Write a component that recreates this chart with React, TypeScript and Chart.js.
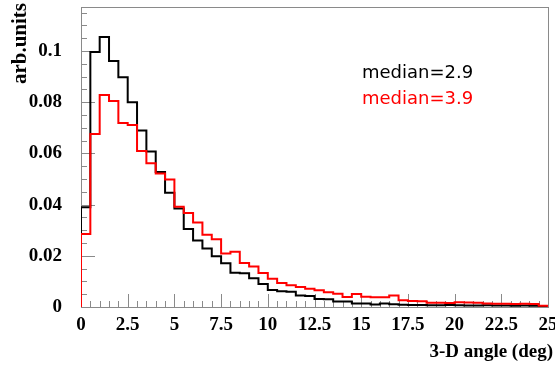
import React, { useEffect, useRef } from 'react';
import { Chart, registerables } from 'chart.js';

Chart.register(...registerables);

// ---- data ----
const BIN_WIDTH = 0.5;
const X_MIN = 0;
const X_MAX = 25;
const Y_MIN = 0;
const Y_MAX = 0.1172;
const X_TICK_STEP = 2.5;
const Y_TICK_STEP = 0.02;

// black histogram (median=2.9), one value per 0.5-deg bin from 0 to 25
const blackValues = [
  0.039, 0.0996, 0.1055, 0.0961, 0.0898, 0.080, 0.069, 0.0607, 0.0527, 0.0446,
  0.0385, 0.0305, 0.026, 0.0229, 0.0198, 0.0171, 0.0134, 0.0132, 0.0112, 0.009,
  0.0066, 0.0062, 0.006, 0.0045, 0.0043, 0.0031, 0.003, 0.0021, 0.0021, 0.0014,
  0.0014, 0.001, 0.0014, 0.0011, 0.0009, 0.0008, 0.0008, 0.0007, 0.0007, 0.0008,
  0.0007, 0.0006, 0.0006, 0.0007, 0.0006, 0.0006, 0.0005, 0.0006, 0.0005, 0.0004,
];

// red histogram (median=3.9)
const redValues = [
  0.0285, 0.0676, 0.0828, 0.0805, 0.0719, 0.0711, 0.0609, 0.0562, 0.0522, 0.0498,
  0.0392, 0.0367, 0.033, 0.0282, 0.0265, 0.0209, 0.0216, 0.0172, 0.0158, 0.0133,
  0.011, 0.0094, 0.0085, 0.0078, 0.0071, 0.0065, 0.0058, 0.0052, 0.0039, 0.0051,
  0.004, 0.0038, 0.0038, 0.0045, 0.0026, 0.0023, 0.0022, 0.0017, 0.0017, 0.0016,
  0.0019, 0.0018, 0.0017, 0.0014, 0.0013, 0.0013, 0.0012, 0.0013, 0.0012, 0.0005,
];

const seriesColors = ['#000000', '#ff0000'];
const medianLabels = ['median=2.9', 'median=3.9'];
const xTitle = '3-D angle (deg)';
const yTitle = 'arb.units';

const AXIS_GRAY = '#8a8a8a';
const SERIF_BOLD = 'bold 19px "Liberation Serif", "Times New Roman", serif';

function histOutline(values: number[]) {
  const pts: { x: number; y: number }[] = [{ x: X_MIN, y: 0 }];
  values.forEach((v, i) => {
    const lo = X_MIN + i * BIN_WIDTH;
    const hi = lo + BIN_WIDTH;
    pts.push({ x: lo, y: v });
    pts.push({ x: hi, y: v });
  });
  pts.push({ x: X_MIN + values.length * BIN_WIDTH, y: 0 });
  return pts;
}

function fmt(v: number) {
  return String(Number(v.toFixed(4)));
}

const rootFramePlugin = {
  id: 'rootFrame',
  beforeDraw(chart: any) {
    const { ctx, width, height } = chart;
    ctx.save();
    ctx.fillStyle = '#ffffff';
    ctx.fillRect(0, 0, width, height);
    ctx.restore();
  },
  beforeDatasetsDraw(chart: any) {
    const { ctx, chartArea } = chart;
    const xs = chart.scales.x;
    const ys = chart.scales.y;
    ctx.save();
    ctx.strokeStyle = AXIS_GRAY;
    ctx.lineWidth = 1;
    // frame
    ctx.strokeRect(
      Math.round(chartArea.left) + 0.5,
      Math.round(chartArea.top) + 0.5,
      Math.round(chartArea.right - chartArea.left),
      Math.round(chartArea.bottom - chartArea.top)
    );
    // x ticks (inward)
    const nx = Math.round((X_MAX - X_MIN) / BIN_WIDTH);
    const xPerMajor = Math.round(X_TICK_STEP / BIN_WIDTH);
    ctx.beginPath();
    for (let i = 0; i <= nx; i++) {
      const v = X_MIN + i * BIN_WIDTH;
      const px = Math.round(xs.getPixelForValue(v)) + 0.5;
      const len = i % xPerMajor === 0 ? 13 : 6;
      ctx.moveTo(px, chartArea.bottom);
      ctx.lineTo(px, chartArea.bottom - len);
    }
    // y ticks (inward)
    const yMinor = Y_TICK_STEP / 4;
    for (let i = 0; Y_MIN + i * yMinor <= Y_MAX + 1e-9; i++) {
      const v = Y_MIN + i * yMinor;
      const py = Math.round(ys.getPixelForValue(v)) + 0.5;
      const len = i % 4 === 0 ? 14 : 6;
      ctx.moveTo(chartArea.left, py);
      ctx.lineTo(chartArea.left + len, py);
    }
    ctx.stroke();
    ctx.restore();
  },
  afterDraw(chart: any) {
    const { ctx } = chart;
    ctx.save();
    // axis titles
    ctx.fillStyle = '#000';
    ctx.font = SERIF_BOLD;
    ctx.textAlign = 'right';
    ctx.textBaseline = 'alphabetic';
    ctx.fillText(xTitle, 553, 357);

    ctx.save();
    ctx.font = 'bold 21px "Liberation Serif", "Times New Roman", serif';
    ctx.translate(26, 3);
    ctx.rotate(-Math.PI / 2);
    ctx.textAlign = 'right';
    ctx.fillText(yTitle, 0, 0);
    ctx.restore();

    // median annotations
    ctx.font = '18px "DejaVu Sans", sans-serif';
    ctx.textAlign = 'left';
    medianLabels.forEach((t, i) => {
      ctx.fillStyle = seriesColors[i];
      ctx.fillText(t, 362, 78 + i * 26);
    });
    ctx.restore();
  },
};

export default function App() {
  const canvasRef = useRef<HTMLCanvasElement | null>(null);

  useEffect(() => {
    document.body.style.margin = '0';
    const canvas = canvasRef.current;
    if (!canvas) return;
    const tickFont = { family: '"Liberation Serif", "Times New Roman", serif', weight: 'bold' as const, size: 19 };
    const chart = new Chart(canvas, {
      type: 'line',
      data: {
        datasets: [blackValues, redValues].map((vals, i) => ({
          label: medianLabels[i],
          data: histOutline(vals),
          borderColor: seriesColors[i],
          borderWidth: 2,
          pointRadius: 0,
          fill: false,
          tension: 0,
          order: 2 - i,
          borderJoinStyle: 'miter' as const,
        })),
      },
      options: {
        animation: false,
        responsive: false,
        devicePixelRatio: 1,
        parsing: false as any,
        layout: { padding: { left: 0, top: 7, right: 7, bottom: 0 } },
        plugins: {
          legend: { display: false },
          tooltip: { enabled: false },
          title: { display: false },
        },
        scales: {
          x: {
            type: 'linear',
            min: X_MIN,
            max: X_MAX,
            grid: { display: false, drawTicks: false },
            border: { display: false },
            ticks: {
              stepSize: X_TICK_STEP,
              autoSkip: false,
              maxRotation: 0,
              includeBounds: false,
              color: '#000',
              font: tickFont,
              padding: 7,
              callback: (v: any) => fmt(Number(v)),
            },
            afterFit: (s: any) => {
              s.height = 64;
              s.paddingLeft = 0;
              s.paddingRight = 0;
            },
          },
          y: {
            type: 'linear',
            min: Y_MIN,
            max: Y_MAX,
            grid: { display: false, drawTicks: false },
            border: { display: false },
            ticks: {
              stepSize: Y_TICK_STEP,
              includeBounds: false,
              color: '#000',
              font: tickFont,
              padding: 19,
              callback: (v: any) => fmt(Number(v)),
            },
            afterFit: (s: any) => {
              s.width = 81;
              s.paddingTop = 0;
              s.paddingBottom = 0;
            },
          },
        },
      },
      plugins: [rootFramePlugin],
    });
    return () => chart.destroy();
  }, []);

  return (
    <div style={{ width: 555, height: 371 }}>
      <canvas ref={canvasRef} width={555} height={371} style={{ width: 555, height: 371, display: 'block' }} />
    </div>
  );
}
